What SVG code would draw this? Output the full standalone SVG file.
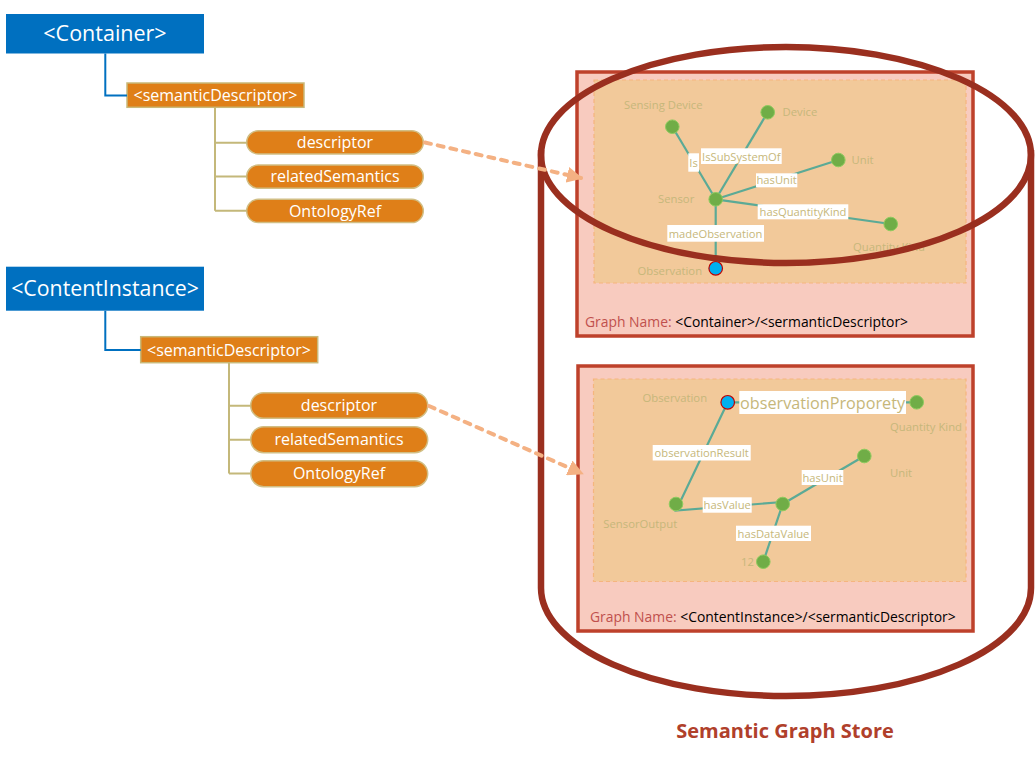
<svg xmlns="http://www.w3.org/2000/svg" width="1035" height="758" viewBox="0 0 1035 758">
<defs>
<style>
text{font-family:"Open Sans","Liberation Sans",sans-serif}
.res{fill:#0070C0}
.resT{fill:#fff;font-size:21.5px;text-anchor:middle}
.sd{fill:#DF7F18;stroke:#C9B979;stroke-width:1.5}
.sdT{fill:#fff;font-size:16px;text-anchor:middle}
.pill{fill:#DF7F18;stroke:#D1BE84;stroke-width:1.5}
.blue{stroke:#0070C0;stroke-width:2;fill:none}
.tan{stroke:#C4B87A;stroke-width:2;fill:none}
.gbox{fill:#F8CBBF;stroke:#BE412B;stroke-width:3.5}
.ibox{fill:#F2C99A;stroke:#F5B57E;stroke-width:1.2;stroke-dasharray:4 3}
.gn{font-size:13.9px;fill:#C0504D}
.gk{fill:#000}
.nl{font-size:11.3px;fill:#C6B77A}
.edge{stroke:#5BAA96;stroke-width:2.2;fill:none}
.lb{fill:#fff}
.lt{font-size:11.2px;fill:#C6B77A}
.gnode{fill:#70AD47;stroke:#8DCB5E;stroke-width:1}
.bnode{fill:#00B0F0;stroke:#C00000;stroke-width:1.2}
.cyl{fill:none;stroke:#9A2F1F;stroke-width:6.5}
.dash{stroke:#F4B183;stroke-width:4;fill:none;stroke-dasharray:6 7}
</style>
<marker id="ah" markerWidth="4" markerHeight="4" refX="3.5" refY="2" orient="auto" markerUnits="strokeWidth">
<path d="M0,0 L4,2 L0,4 Z" fill="#F4B183"/>
</marker>
</defs>
<rect width="1035" height="758" fill="#fff"/>

<!-- Cylinder body -->
<path id="cylinder-body" class="cyl" d="M541,150 L541,588 A245,108 0 0 0 1031,588 L1031,150"/>

<!-- Top graph box -->
<g id="graph1">
<rect class="gbox" x="577" y="72" width="396" height="264"/>
<rect class="ibox" x="594" y="80" width="372" height="203"/>
<line class="edge" x1="715.7" y1="199.3" x2="672.3" y2="126.7"/>
<line class="edge" x1="715.7" y1="199.3" x2="767.7" y2="112.3"/>
<line class="edge" x1="715.7" y1="199.3" x2="838.3" y2="160"/>
<line class="edge" x1="715.7" y1="199.3" x2="890.7" y2="224"/>
<line class="edge" x1="715.7" y1="199.3" x2="715.7" y2="268.3"/>
<rect class="lb" x="688.3" y="153.3" width="10.7" height="18.4"/>
<text class="lt" x="693.6" y="166.5" text-anchor="middle">Is</text>
<rect class="lb" x="701" y="148.3" width="80.7" height="15.7"/>
<text class="lt" x="741.3" y="160.5" text-anchor="middle">IsSubSystemOf</text>
<rect class="lb" x="756" y="173.3" width="41.3" height="14"/>
<text class="lt" x="776.6" y="184.3" text-anchor="middle">hasUnit</text>
<rect class="lb" x="757.7" y="204.3" width="90.6" height="15"/>
<text class="lt" x="803" y="215.8" text-anchor="middle">hasQuantityKind</text>
<rect class="lb" x="667.3" y="225" width="96.7" height="16.7"/>
<text class="lt" x="715.6" y="237.5" text-anchor="middle">madeObservation</text>
<circle class="gnode" cx="672.3" cy="126.7" r="6.8"/>
<circle class="gnode" cx="767.7" cy="112.3" r="6.8"/>
<circle class="gnode" cx="838.3" cy="160" r="6.8"/>
<circle class="gnode" cx="715.7" cy="199.3" r="6.8"/>
<circle class="gnode" cx="890.7" cy="224" r="6.8"/>
<circle class="bnode" cx="715.7" cy="268.3" r="6.8"/>
<text class="nl" x="624" y="108.5">Sensing Device</text>
<text class="nl" x="782.5" y="115.8">Device</text>
<text class="nl" x="851.5" y="164">Unit</text>
<text class="nl" x="658" y="202.7">Sensor</text>
<text class="nl" x="853" y="250.5">Quantity Kind</text>
<text class="nl" x="637.5" y="275">Observation</text>
<text class="gn" x="585" y="327">Graph Name: <tspan class="gk">&lt;Container&gt;/&lt;sermanticDescriptor&gt;</tspan></text>
</g>

<!-- Cylinder top ellipse (drawn over top box) -->
<ellipse id="cylinder-top" class="cyl" cx="786" cy="155" rx="245" ry="108"/>

<!-- Bottom graph box -->
<g id="graph2">
<rect class="gbox" x="578" y="366" width="395" height="265"/>
<rect class="ibox" x="593.5" y="379" width="372.5" height="202.5"/>
<line class="edge" x1="727.7" y1="402.3" x2="916.7" y2="402.3"/>
<path class="edge" d="M727.7,402.3 L676,510.5 L782.7,502"/>
<line class="edge" x1="782.7" y1="504" x2="864.3" y2="456"/>
<line class="edge" x1="782.7" y1="504" x2="763.3" y2="561.7"/>
<rect class="lb" x="739.3" y="391" width="166.7" height="23"/>
<text x="822.6" y="408.5" text-anchor="middle" style="font-size:16.2px;fill:#C6B77A">observationProporety</text>
<rect class="lb" x="652.7" y="445" width="98" height="15.5"/>
<text class="lt" x="701.7" y="456.7" text-anchor="middle">observationResult</text>
<rect class="lb" x="702.7" y="497.3" width="49" height="15.4"/>
<text class="lt" x="727.2" y="509" text-anchor="middle">hasValue</text>
<rect class="lb" x="801.7" y="470" width="41.6" height="15"/>
<text class="lt" x="822.5" y="481.7" text-anchor="middle">hasUnit</text>
<rect class="lb" x="736" y="525.7" width="75" height="15.3"/>
<text class="lt" x="773.5" y="537.5" text-anchor="middle">hasDataValue</text>
<circle class="bnode" cx="727.7" cy="402.3" r="6.8"/>
<circle class="gnode" cx="916.7" cy="402.3" r="6.8"/>
<circle class="gnode" cx="864.3" cy="456" r="6.8"/>
<circle class="gnode" cx="676" cy="504" r="6.8"/>
<circle class="gnode" cx="782.7" cy="504" r="6.8"/>
<circle class="gnode" cx="763.3" cy="561.7" r="6.8"/>
<text class="nl" x="642.5" y="401.7">Observation</text>
<text class="nl" x="890" y="430.7">Quantity Kind</text>
<text class="nl" x="890" y="476.7">Unit</text>
<text class="nl" x="603.3" y="527.7">SensorOutput</text>
<text class="nl" x="741" y="565.5">12</text>
<text class="gn" x="590" y="621.5">Graph Name: <tspan class="gk">&lt;ContentInstance&gt;/&lt;sermanticDescriptor&gt;</tspan></text>
</g>

<text id="store-title" x="785" y="738" text-anchor="middle" style="font-size:20px;font-weight:bold;fill:#B0402B">Semantic Graph Store</text>

<!-- Top resource tree -->
<g id="container">
<rect class="res" x="6" y="14" width="198" height="39.5"/>
<text class="resT" x="105" y="41">&lt;Container&gt;</text>
</g>
<g id="semdesc1">
<rect class="sd" x="127" y="83" width="177" height="24.3"/>
<text class="sdT" x="215.5" y="101">&lt;semanticDescriptor&gt;</text>
</g>
<g id="descriptor1">
<rect class="pill" x="246.7" y="130.7" width="176.6" height="23.3" rx="11.6"/>
<text class="sdT" x="335" y="148">descriptor</text>
</g>
<g id="related1">
<rect class="pill" x="246.7" y="165" width="176.6" height="23.3" rx="11.6"/>
<text class="sdT" x="335" y="182.3">relatedSemantics</text>
</g>
<g id="ontology1">
<rect class="pill" x="246.7" y="199.3" width="176.6" height="23.3" rx="11.6"/>
<text class="sdT" x="335" y="216.7">OntologyRef</text>
</g>

<!-- Bottom resource tree -->
<g id="contentinstance">
<rect class="res" x="6" y="266.7" width="198" height="44"/>
<text class="resT" x="105" y="296" style="font-size:21.3px">&lt;ContentInstance&gt;</text>
</g>
<g id="semdesc2">
<rect class="sd" x="140.7" y="336.7" width="177" height="26"/>
<text class="sdT" x="229" y="355.5">&lt;semanticDescriptor&gt;</text>
</g>
<g id="descriptor2">
<rect class="pill" x="250.7" y="392.7" width="177" height="25.6" rx="12.8"/>
<text class="sdT" x="339" y="411">descriptor</text>
</g>
<g id="related2">
<rect class="pill" x="250.7" y="426.7" width="177" height="26" rx="13"/>
<text class="sdT" x="339" y="445.2">relatedSemantics</text>
</g>
<g id="ontology2">
<rect class="pill" x="250.7" y="460.7" width="177" height="26" rx="13"/>
<text class="sdT" x="339" y="479.2">OntologyRef</text>
</g>

<!-- Connectors -->
<g id="connectors">
<path class="blue" d="M105.3,53.5 L105.3,95.5 L127,95.5"/>
<path class="tan" d="M215,107.3 L215,210.7 M215,142.7 L246.7,142.7 M215,176.5 L246.7,176.5 M215,210.7 L246.7,210.7"/>
<path class="blue" d="M105.3,310.7 L105.3,350 L140.7,350"/>
<path class="tan" d="M229,362.7 L229,473.5 M229,405.7 L250.7,405.7 M229,439.7 L250.7,439.7 M229,473.5 L250.7,473.5"/>
<line class="dash" x1="425" y1="142.5" x2="581" y2="178" marker-end="url(#ah)" stroke-linecap="round"/>
<line class="dash" x1="429" y1="406" x2="582" y2="473.5" marker-end="url(#ah)" stroke-linecap="round"/>
</g>
</svg>
